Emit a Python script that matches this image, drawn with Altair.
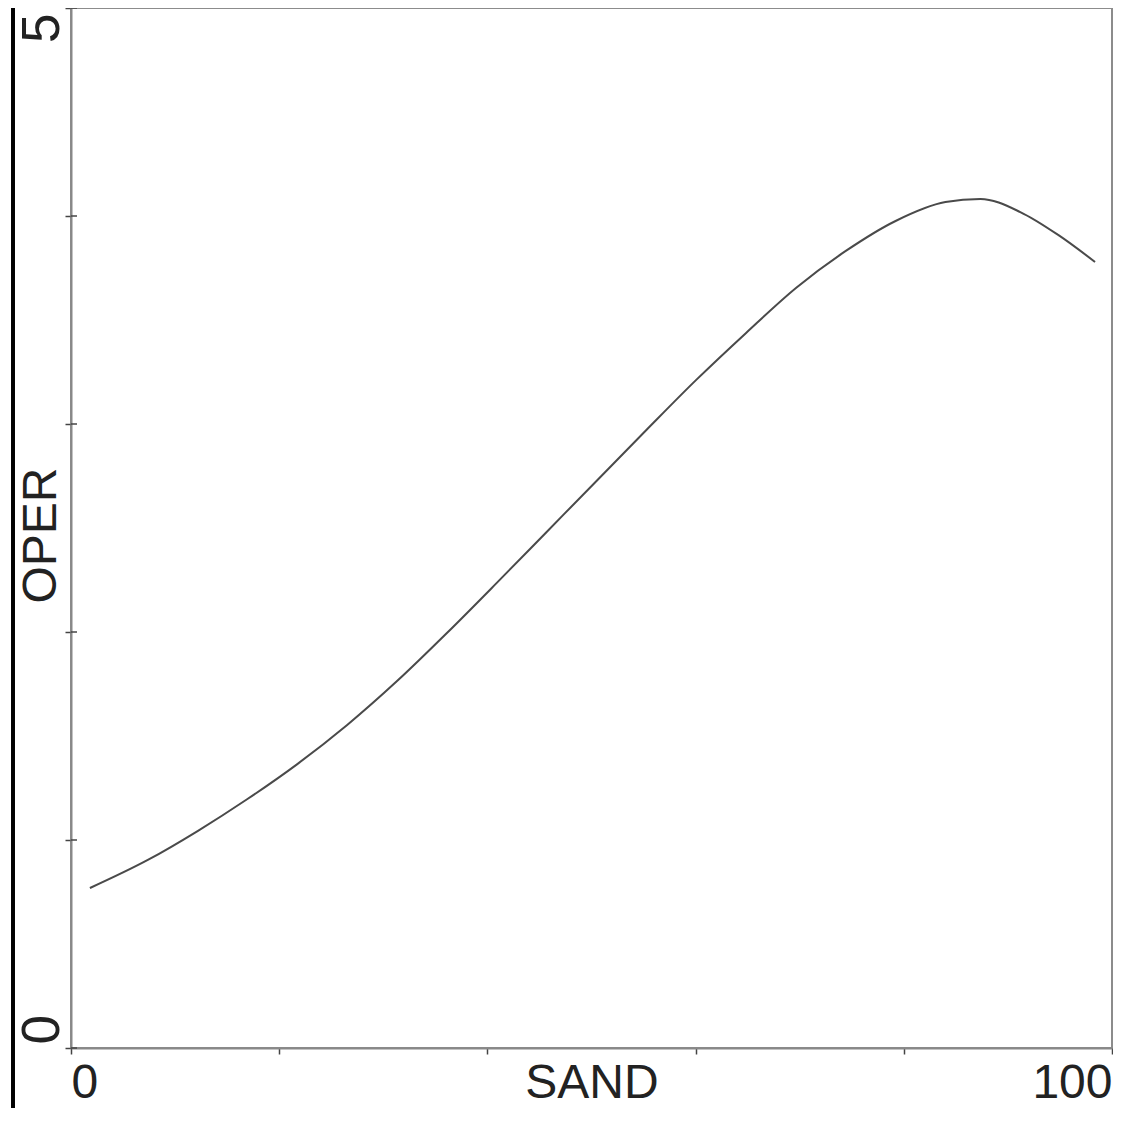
import altair as alt
import pandas as pd

sand = [1.82, 7.38, 12.16, 16.95, 21.74, 26.53, 31.32, 36.11, 40.90, 45.69, 50.48,
        55.27, 60.06, 64.85, 69.64, 74.43, 79.21, 84.00, 87.36, 91.19, 94.83, 98.37]
oper = [0.769, 0.904, 1.043, 1.197, 1.365, 1.553, 1.764, 1.995, 2.236, 2.481, 2.726,
        2.971, 3.212, 3.438, 3.654, 3.832, 3.976, 4.067, 4.082, 4.019, 3.909, 3.779]
x_ticks = [0, 20, 40, 60, 80, 100]
y_ticks = [0, 1, 2, 3, 4, 5]

df = pd.DataFrame({"SAND": sand, "OPER": oper})
ticks_df = pd.DataFrame({"OPER": y_ticks})

FONT = "Liberation Sans"
W, H = 1041, 1040
PAD_LEFT, PAD_RIGHT, PAD_BOTTOM = 63, 1, 60

xscale = alt.Scale(domain=[0, 100], nice=False, zero=False)
yscale = alt.Scale(domain=[0, 5], nice=False, zero=False)

line = alt.Chart(df).mark_line(color="#4a4a4a", strokeWidth=2, interpolate="monotone").encode(
    x=alt.X("SAND:Q", scale=xscale,
            axis=alt.Axis(values=x_ticks, format="d",
                          labelExpr="datum.value == 0 || datum.value == 100 ? datum.label : ''",
                          labelFlush=True, labelBaseline="alphabetic", labelPadding=43, tickSize=6,
                          labelFontSize=48, titleFontSize=48, labelFont=FONT, titleFont=FONT,
                          labelColor="#222", titleColor="#222", titleFontWeight="normal",
                          titleBaseline="alphabetic", titleY=49,
                          domainColor="#888", domainWidth=2, tickColor="#444", tickWidth=1.5,
                          grid=False, title="SAND")),
    y=alt.Y("OPER:Q", scale=yscale,
            axis=alt.Axis(values=y_ticks, format="d",
                          labelExpr="datum.value == 0 || datum.value == 5 ? datum.label : ''",
                          labelAngle=270,
                          labelAlign={"condition": {"test": "datum.value == 0", "value": "left"}, "value": "right"},
                          labelOffset={"condition": {"test": "datum.value == 0", "value": -4}, "value": 5},
                          labelBaseline="alphabetic", labelPadding=7, tickSize=6,
                          labelFontSize=53, titleFontSize=48, labelFont=FONT, titleFont=FONT,
                          labelColor="#222", titleColor="#222", titleFontWeight="normal",
                          titleAngle=270, titleBaseline="alphabetic", titleX=-16, titleY=527,
                          domainColor="#888", domainWidth=2, tickColor="#444", tickWidth=1.5,
                          grid=False, title="OPER")),
)

inner_ticks = alt.Chart(ticks_df).mark_rule(color="#444", strokeWidth=1.5).encode(
    y=alt.Y("OPER:Q", scale=yscale), x=alt.value(0), x2=alt.value(6)
)

edge = alt.Chart(ticks_df).mark_rule(color="black", strokeWidth=3).encode(
    x=alt.value(5 - PAD_LEFT), y=alt.value(0), y2=alt.value(H + PAD_BOTTOM)
)

chart = alt.layer(line, inner_ticks, edge).properties(
    width=W, height=H,
    autosize=alt.AutoSizeParams(type="none"),
    padding={"left": PAD_LEFT, "top": 0, "right": PAD_RIGHT, "bottom": PAD_BOTTOM},
).configure(background="white").configure_view(stroke="#8c8c8c", strokeWidth=2)

chart.save("out.html", embed_options={"renderer": "svg", "actions": False})
